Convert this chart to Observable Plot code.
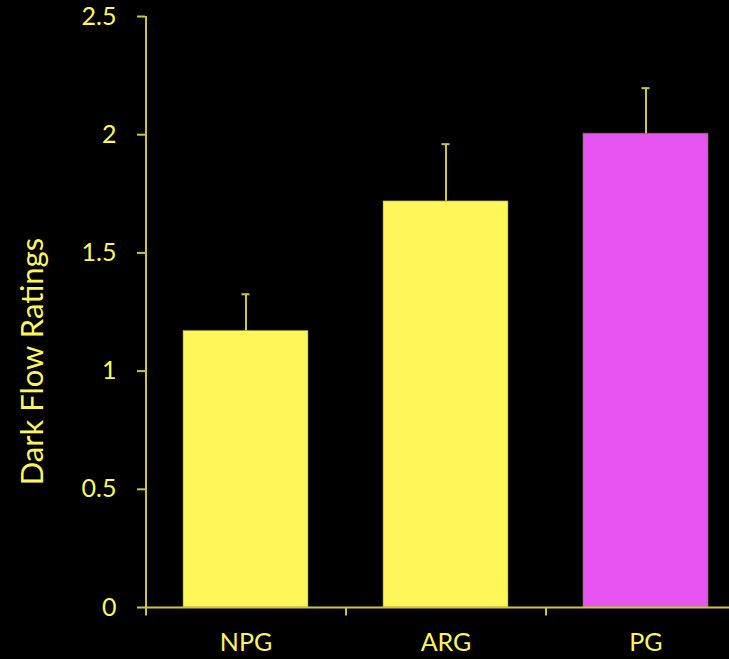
<!DOCTYPE html>
<html>
<head>
<meta charset="utf-8">
<script src="https://cdn.jsdelivr.net/npm/d3@7"></script>
<script src="https://cdn.jsdelivr.net/npm/@observablehq/plot@0.6"></script>
<style>
  html, body { margin: 0; padding: 0; background: #000; overflow: hidden; }
  #chart svg { display: block; }
</style>
</head>
<body>
<div id="chart"></div>
<script>
const categories = ["NPG", "ARG", "PG"];
const means = [1.17, 1.718, 2.004];
const errors = [0.155, 0.242, 0.193];
const barColors = ["#FFF65A", "#FFF65A", "#E655F2"];
const yTicks = [0, 0.5, 1, 1.5, 2, 2.5];
const yLabel = "Dark Flow Ratings";

const data = categories.map((c, i) => ({cat: c, mean: means[i], err: errors[i], color: barColors[i]}));
const axisColor = "#CFC53A";
const font = "Lato, 'Open Sans', sans-serif";

const chart = Plot.plot({
  width: 729,
  height: 659,
  marginLeft: 145,
  marginRight: 0,
  marginTop: 16,
  marginBottom: 52,
  style: {background: "#000", color: "#FFF65A", fontFamily: font, overflow: "hidden"},
  x: {domain: categories, range: [145, 745], paddingInner: 0.375, paddingOuter: 0.1875, axis: null},
  y: {domain: [0, 2.5], axis: null},
  marks: [
    Plot.barY(data, {x: "cat", y: "mean", fill: d => d.color, stroke: "#8a8420", strokeOpacity: 0.6, strokeWidth: 1}),
    Plot.ruleX(data, {x: "cat", y1: "mean", y2: d => d.mean + d.err, stroke: axisColor, strokeWidth: 2}),
    Plot.tickY(data, {x: "cat", y: d => d.mean + d.err, stroke: axisColor, strokeWidth: 2, insetLeft: 58.5, insetRight: 58.5}),
    Plot.ruleY([0], {stroke: axisColor, strokeWidth: 2}),
    Plot.ruleX([categories[0]], {dx: -100, y1: 0, y2: 2.5, stroke: axisColor, strokeWidth: 2}),
    Plot.ruleX(categories, {dx: -100, y1: 0, y2: -0.036, stroke: axisColor, strokeWidth: 2}),
    Plot.axisY({ticks: yTicks, tickSize: 8, tickPadding: 21, tickFormat: d => String(d), stroke: axisColor, strokeWidth: 2, fontSize: 25, fill: "#FFF65A", label: null, anchor: "left"}),
    Plot.text(categories, {x: d => d, frameAnchor: "bottom", dy: 43, text: d => d, fontSize: 25, fill: "#FFF65A"}),
    Plot.text([yLabel], {y: [1.04], frameAnchor: "left", textAnchor: "middle", dx: -112, rotate: -90, text: d => d, fontSize: 31, fill: "#FFF65A"})
  ]
});
document.getElementById("chart").append(chart);
</script>
</body>
</html>
